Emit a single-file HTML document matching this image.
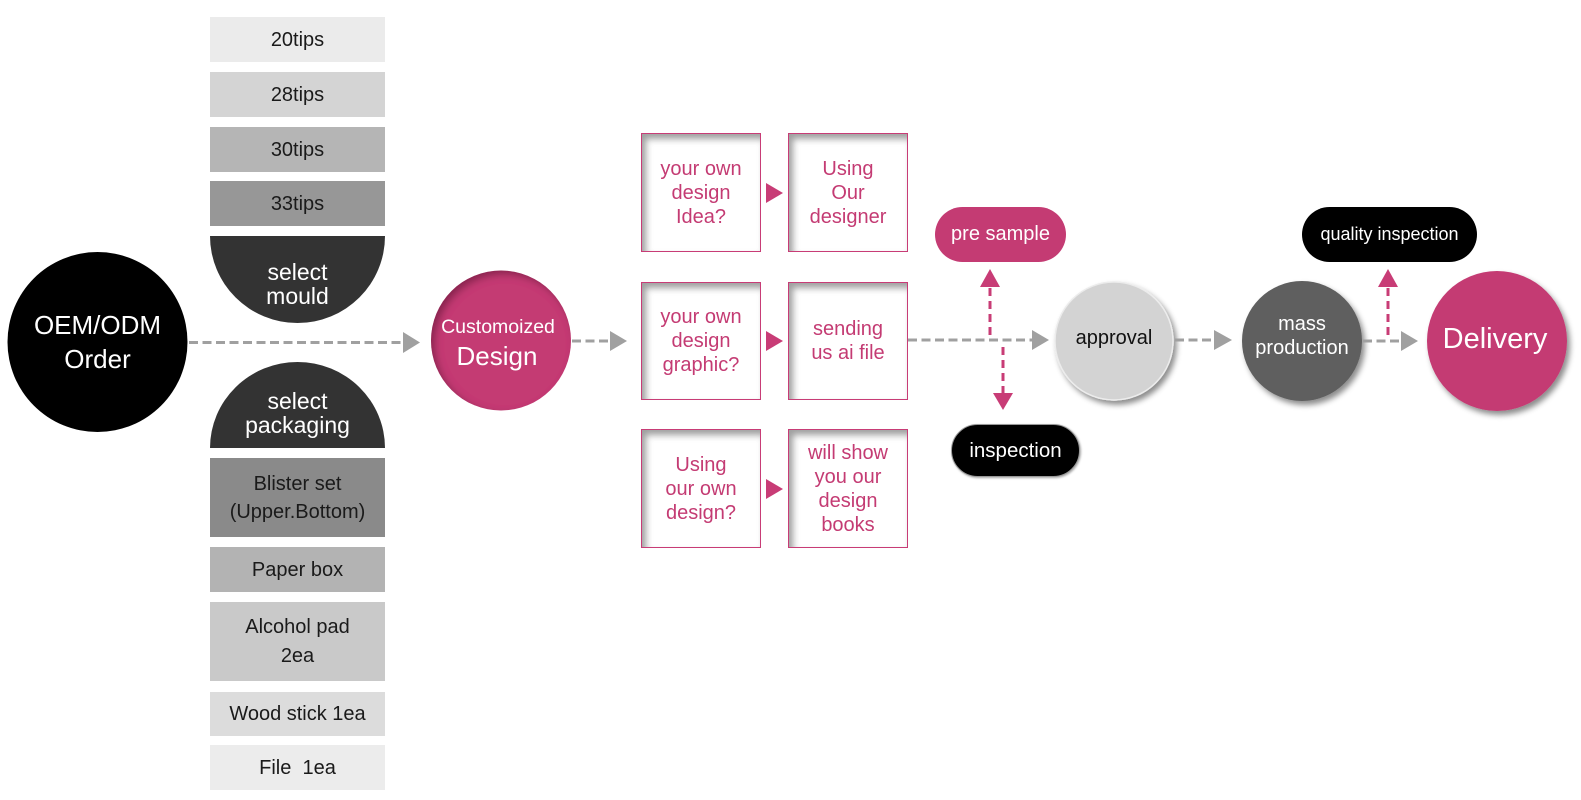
<!DOCTYPE html>
<html><head><meta charset="utf-8">
<style>
html,body{margin:0;padding:0;background:#fff;}
body{width:1581px;height:800px;position:relative;overflow:hidden;font-family:"Liberation Sans",sans-serif;}
.t{position:absolute;left:210px;width:175px;box-sizing:border-box;display:flex;align-items:center;justify-content:center;text-align:center;font-size:20px;color:#1a1a1a;line-height:28px;}
.sel{position:absolute;left:210px;width:175px;background:#333;color:#fff;font-size:23px;line-height:24px;text-align:center;box-sizing:border-box;display:flex;align-items:center;justify-content:center;}
.b{position:absolute;width:120px;height:119px;border:1.5px solid #c83c76;box-shadow:inset 4px 5px 7px rgba(0,0,0,0.38);display:flex;align-items:center;justify-content:center;text-align:center;color:#c43b73;font-size:20px;line-height:24px;background:#fff;box-sizing:border-box;}
.pill{position:absolute;display:flex;align-items:center;justify-content:center;color:#fff;border-radius:28px;box-sizing:border-box;}
svg{position:absolute;left:0;top:0;}
</style></head>
<body>
<div class="t" style="top:17px;height:45px;background:#ebebeb;">20tips</div>
<div class="t" style="top:72px;height:45px;background:#d4d4d4;">28tips</div>
<div class="t" style="top:127px;height:45px;background:#b5b5b5;">30tips</div>
<div class="t" style="top:181px;height:45px;background:#979797;">33tips</div>
<div class="sel" style="top:236px;height:87px;padding-top:8px;border-radius:0 0 87.5px 87.5px / 0 0 87px 87px;">select<br>mould</div>
<div class="sel" style="top:362px;height:86px;padding-top:15px;border-radius:87.5px 87.5px 0 0 / 86px 86px 0 0;">select<br>packaging</div>
<div class="t" style="top:458px;height:79px;background:#8a8a8a;">Blister set<br>(Upper.Bottom)</div>
<div class="t" style="top:547px;height:45px;background:#b3b3b3;">Paper box</div>
<div class="t" style="top:602px;height:79px;background:#c9c9c9;line-height:29px;">Alcohol pad<br>2ea</div>
<div class="t" style="top:692px;height:44px;background:#dcdcdc;">Wood stick 1ea</div>
<div class="t" style="top:745px;height:45px;background:#ececec;">File&nbsp; 1ea</div>

<div class="b" style="left:641px;top:133px;">your own<br>design<br>Idea?</div>
<div class="b" style="left:788px;top:133px;">Using<br>Our<br>designer</div>
<div class="b" style="left:641px;top:282px;height:118px;">your own<br>design<br>graphic?</div>
<div class="b" style="left:788px;top:282px;height:118px;">sending<br>us ai file</div>
<div class="b" style="left:641px;top:429px;">Using<br>our own<br>design?</div>
<div class="b" style="left:788px;top:429px;">will show<br>you our<br>design<br>books</div>

<div class="pill" style="left:935px;top:207px;width:131px;height:55px;background:#c43b73;font-size:20px;">pre sample</div>
<div class="pill" style="left:951px;top:424px;width:129px;height:53px;background:#000;font-size:20.5px;border-radius:27px;box-shadow:1px 1px 2px rgba(0,0,0,0.35);border:1px solid #999;">inspection</div>
<div class="pill" style="left:1302px;top:207px;width:175px;height:55px;background:#000;font-size:18px;">quality inspection</div>

<svg width="1581" height="800" viewBox="0 0 1581 800">
<defs>
<filter id="drop" x="-30%" y="-30%" width="160%" height="160%">
<feGaussianBlur in="SourceAlpha" stdDeviation="3"/>
<feOffset dx="3" dy="4" result="o"/>
<feFlood flood-color="#000" flood-opacity="0.45"/>
<feComposite in2="o" operator="in" result="sh"/>
<feMerge><feMergeNode in="sh"/><feMergeNode in="SourceGraphic"/></feMerge>
</filter>
<filter id="inner" x="-20%" y="-20%" width="140%" height="140%">
<feFlood flood-color="#000" flood-opacity="0.55" result="f"/>
<feComposite in="f" in2="SourceAlpha" operator="out" result="inv"/>
<feOffset dx="4" dy="4"/>
<feGaussianBlur stdDeviation="4" result="s"/>
<feComposite in="s" in2="SourceAlpha" operator="in" result="is"/>
<feMerge><feMergeNode in="SourceGraphic"/><feMergeNode in="is"/></feMerge>
</filter>
</defs>

<circle cx="97.5" cy="342" r="90" fill="#000"/>
<text x="97.5" y="325" fill="#fff" font-size="26" text-anchor="middle" dominant-baseline="central" font-family="Liberation Sans, sans-serif">OEM/ODM</text>
<text x="97.5" y="359" fill="#fff" font-size="26" text-anchor="middle" dominant-baseline="central" font-family="Liberation Sans, sans-serif">Order</text>

<circle cx="501" cy="340.5" r="70" fill="#c43b73" filter="url(#inner)"/>
<text x="498" y="327" fill="#fff" font-size="19.5" text-anchor="middle" dominant-baseline="central" font-family="Liberation Sans, sans-serif">Customoized</text>
<text x="497" y="356" fill="#fff" font-size="26" text-anchor="middle" dominant-baseline="central" font-family="Liberation Sans, sans-serif">Design</text>

<g filter="url(#drop)"><circle cx="1114" cy="341" r="59" fill="#d3d3d3" stroke="#ececec" stroke-width="1.5"/></g>
<text x="1114" y="338" fill="#111" font-size="20" text-anchor="middle" dominant-baseline="central" font-family="Liberation Sans, sans-serif">approval</text>

<g filter="url(#drop)"><circle cx="1302" cy="341" r="60" fill="#5f5f5f"/></g>
<text x="1302" y="324" fill="#fff" font-size="20" text-anchor="middle" dominant-baseline="central" font-family="Liberation Sans, sans-serif">mass</text>
<text x="1302" y="348" fill="#fff" font-size="20" text-anchor="middle" dominant-baseline="central" font-family="Liberation Sans, sans-serif">production</text>

<g filter="url(#drop)"><circle cx="1497" cy="341" r="70" fill="#c43b73"/></g>
<text x="1495" y="339" fill="#fff" font-size="29" text-anchor="middle" dominant-baseline="central" font-family="Liberation Sans, sans-serif">Delivery</text>

<g stroke="#a0a0a0" stroke-width="3" stroke-dasharray="9 4.5" fill="none">
<line x1="189" y1="342.5" x2="403" y2="342.5"/>
<line x1="572" y1="341" x2="610" y2="341"/>
<line x1="908" y1="340" x2="1032" y2="340"/>
<line x1="1175" y1="340" x2="1214" y2="340"/>
<line x1="1363" y1="341" x2="1401" y2="341"/>
</g>
<g fill="#a0a0a0">
<polygon points="403,332 420,342.5 403,353"/>
<polygon points="610,331 627,341 610,351"/>
<polygon points="1032,330 1049,340 1032,350"/>
<polygon points="1214,330 1232,340 1214,350"/>
<polygon points="1401,331 1418,341 1401,351"/>
</g>

<g stroke="#c83c76" stroke-width="3" stroke-dasharray="8 5" fill="none">
<line x1="990" y1="335" x2="990" y2="287"/>
<line x1="1003" y1="347" x2="1003" y2="393"/>
<line x1="1388" y1="335" x2="1388" y2="287"/>
</g>
<g fill="#c83c76">
<polygon points="980,287 990,269 1000,287"/>
<polygon points="993,393 1003,410 1013,393"/>
<polygon points="1378,287 1388,269 1398,287"/>
<polygon points="766,183 783,193 766,203"/>
<polygon points="766,331 783,341 766,351"/>
<polygon points="766,479 783,489 766,499"/>
</g>
</svg>
</body></html>
